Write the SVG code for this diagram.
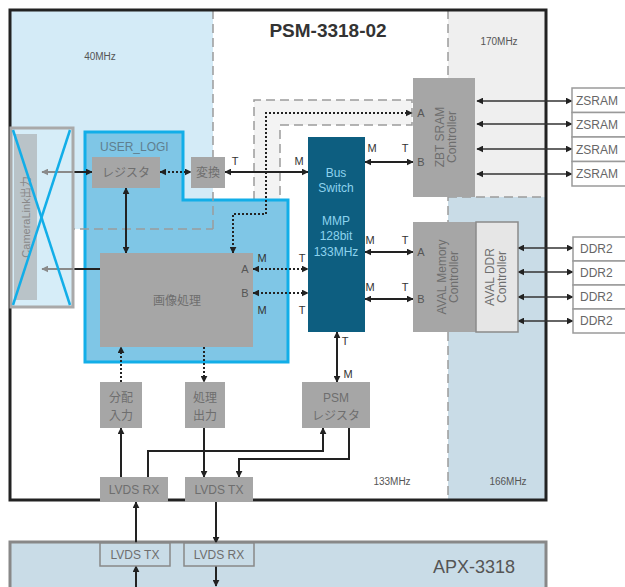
<svg xmlns="http://www.w3.org/2000/svg" width="625" height="587" viewBox="0 0 625 587">
<defs>
<style>
text{font-family:"Liberation Sans","Noto Sans CJK JP",sans-serif;}
.box{fill:#a6a6a6;}
.bt{font-size:12px;fill:#6e6e6e;text-anchor:middle;}
.lbl{font-size:11px;fill:#333;text-anchor:middle;}
.ab{font-size:11px;fill:#555;text-anchor:middle;}
.mhz{font-size:10px;fill:#555;text-anchor:middle;}
.dash{fill:none;stroke:#9c9c9c;stroke-width:1.5;stroke-dasharray:9 5;}
.c{fill:none;stroke:#222;stroke-width:2;}
.ct{fill:none;stroke:#333;stroke-width:1.5;}
.cd{fill:none;stroke:#222;stroke-width:2;stroke-dasharray:2 2;}
.cg{fill:none;stroke:#8a8a8a;stroke-width:2;}
.ext{fill:#fff;stroke:#9a9a9a;stroke-width:1.5;}
.et{font-size:12px;fill:#666;}
.bs{font-size:12px;fill:#8dd3ee;text-anchor:middle;}
</style>
<marker id="ah" viewBox="0 0 10 10" refX="9" refY="5" markerWidth="7" markerHeight="7" markerUnits="userSpaceOnUse" orient="auto-start-reverse"><path d="M0,0 L10,5 L0,10 z" fill="#222"/></marker>
<marker id="ag" viewBox="0 0 10 10" refX="9" refY="5" markerWidth="7" markerHeight="7" markerUnits="userSpaceOnUse" orient="auto-start-reverse"><path d="M0,0 L10,5 L0,10 z" fill="#8a8a8a"/></marker>
</defs>
<rect width="625" height="587" fill="#fff"/>

<g id="regions">
<rect x="10" y="10" width="203" height="219" fill="#d4ebf7"/>
<rect x="448" y="10" width="98" height="187" fill="#efefef"/>
<rect x="448" y="197" width="98" height="303" fill="#c9dce7"/>
<path d="M254,200 L254,100 L412,100 L412,125 L280,125 L280,200" fill="#f3f3f3" stroke="#9c9c9c" stroke-width="1.5" stroke-dasharray="9 5"/>
</g>

<g id="user_logi">
<polygon points="85,132 183,132 183,200 288,200 288,362 85,362" fill="#7fc6e6" stroke="#12aee8" stroke-width="3"/>
<text x="100" y="151" font-size="12" fill="#5f7f8f">USER_LOGI</text>
</g>

<g id="region-lines">
<line x1="213" y1="10" x2="213" y2="229" class="dash"/>
<line x1="10" y1="229" x2="213" y2="229" class="dash"/>
<line x1="448" y1="10" x2="448" y2="500" class="dash"/>
<line x1="448" y1="197" x2="546" y2="197" class="dash"/>
</g>

<g id="psm">
<rect x="10" y="10" width="536" height="490" fill="none" stroke="#222" stroke-width="3"/>
<text x="328" y="37" font-size="19" font-weight="bold" fill="#333" text-anchor="middle">PSM-3318-02</text>
<text x="100" y="60" class="mhz">40MHz</text>
<text x="499" y="45" class="mhz">170MHz</text>
<text x="392" y="485" class="mhz">133MHz</text>
<text x="508" y="485" class="mhz">166MHz</text>
</g>

<g id="apx">
<rect x="10" y="542" width="536" height="60" fill="#c9dce7" stroke="#888" stroke-width="3"/>
<text x="474" y="573" font-size="18" fill="#555" text-anchor="middle">APX-3318</text>
</g>

<g id="connectors">
<path d="M73,172 L92,172" class="c" marker-end="url(#ah)"/>
<path d="M73,172 L40,172" class="cg" marker-end="url(#ag)"/>
<path d="M100,269 L73,269" class="c"/>
<path d="M73,269 L40,269" class="cg" marker-end="url(#ag)"/>
<path d="M160,172 L191,172" class="cd" marker-start="url(#ah)" marker-end="url(#ah)"/>
<path d="M225,172 L308,172" class="c" marker-start="url(#ah)" marker-end="url(#ah)"/>
<path d="M126,188 L126,253" class="c" marker-start="url(#ah)" marker-end="url(#ah)"/>
<path d="M233,253 L233,214 L266,214 L266,113 L412,113" class="cd" marker-start="url(#ah)" marker-end="url(#ah)"/>
<path d="M253,269 L308,269" class="cd" marker-start="url(#ah)" marker-end="url(#ah)"/>
<path d="M253,293 L308,293" class="cd" marker-start="url(#ah)" marker-end="url(#ah)"/>
<path d="M365,162 L413,162" class="c" marker-start="url(#ah)" marker-end="url(#ah)"/>
<path d="M365,252 L413,252" class="c" marker-start="url(#ah)" marker-end="url(#ah)"/>
<path d="M365,299 L413,299" class="c" marker-start="url(#ah)" marker-end="url(#ah)"/>
<path d="M337,332 L337,382" class="c" marker-start="url(#ah)" marker-end="url(#ah)"/>
<path d="M121,382 L121,347" class="cd" marker-end="url(#ah)"/>
<path d="M204,347 L204,382" class="cd" marker-end="url(#ah)"/>
<path d="M121,477 L121,428" class="c" marker-end="url(#ah)"/>
<path d="M148,477 L148,451 L323,451 L323,428" class="c" marker-end="url(#ah)"/>
<path d="M204,428 L204,477" class="c" marker-end="url(#ah)"/>
<path d="M349,428 L349,459 L239,459 L239,477" class="c" marker-end="url(#ah)"/>
<path d="M136,543 L136,502" class="c" marker-end="url(#ah)"/>
<path d="M136,587 L136,566" class="c" marker-end="url(#ah)"/>
<path d="M216,502 L216,543" class="c" marker-end="url(#ah)"/>
<path d="M216,566 L216,586" class="c" marker-end="url(#ah)"/>
<path d="M477,101 L572,101" class="ct" marker-start="url(#ah)" marker-end="url(#ah)"/>
<path d="M477,124 L572,124" class="ct" marker-start="url(#ah)" marker-end="url(#ah)"/>
<path d="M477,149 L572,149" class="ct" marker-start="url(#ah)" marker-end="url(#ah)"/>
<path d="M477,174 L572,174" class="ct" marker-start="url(#ah)" marker-end="url(#ah)"/>
<path d="M518,248 L573,248" class="ct" marker-start="url(#ah)" marker-end="url(#ah)"/>
<path d="M518,272 L573,272" class="ct" marker-start="url(#ah)" marker-end="url(#ah)"/>
<path d="M518,297 L573,297" class="ct" marker-start="url(#ah)" marker-end="url(#ah)"/>
<path d="M518,321 L573,321" class="ct" marker-start="url(#ah)" marker-end="url(#ah)"/>
<text x="235" y="165" class="lbl">T</text>
<text x="299" y="165" class="lbl">M</text>
<text x="372" y="152" class="lbl">M</text>
<text x="405" y="152" class="lbl">T</text>
<text x="370" y="244" class="lbl">M</text>
<text x="405" y="244" class="lbl">T</text>
<text x="370" y="291" class="lbl">M</text>
<text x="405" y="291" class="lbl">T</text>
<text x="262" y="262" class="lbl">M</text>
<text x="302" y="262" class="lbl">T</text>
<text x="262" y="314" class="lbl">M</text>
<text x="302" y="314" class="lbl">T</text>
<text x="345" y="345" class="lbl">T</text>
<text x="348" y="378" class="lbl">M</text>
</g>

<g id="register">
<rect x="92" y="157" width="68" height="31" class="box"/>
<text x="126" y="177" class="bt">レジスタ</text>
</g>
<g id="convert">
<rect x="191" y="157" width="34" height="31" class="box"/>
<text x="208" y="177" class="bt">変換</text>
</g>
<g id="image-proc">
<rect x="100" y="253" width="153" height="94" class="box"/>
<text x="177" y="305" class="bt" font-size="13">画像処理</text>
<text x="245" y="273" class="ab">A</text>
<text x="245" y="297" class="ab">B</text>
</g>
<g id="bus-switch">
<rect x="308" y="137" width="57" height="195" fill="#0d5e80"/>
<text x="336" y="177" class="bs">Bus</text>
<text x="336" y="192" class="bs">Switch</text>
<text x="336" y="225" class="bs">MMP</text>
<text x="336" y="240" class="bs">128bit</text>
<text x="336" y="256" class="bs">133MHz</text>
</g>
<g id="zbt">
<rect x="413" y="78" width="62" height="119" class="box"/>
<text x="421" y="117" class="ab">A</text>
<text x="421" y="166" class="ab">B</text>
<g transform="translate(444,137) rotate(-90)">
<text x="0" y="0" class="bt" font-size="11">ZBT SRAM</text>
<text x="0" y="12" class="bt" font-size="11">Controller</text>
</g>
</g>
<g id="aval-mem">
<rect x="413" y="222" width="64" height="110" class="box"/>
<text x="421" y="256" class="ab">A</text>
<text x="421" y="303" class="ab">B</text>
<g transform="translate(446,277) rotate(-90)">
<text x="0" y="0" class="bt" font-size="11">AVAL Memory</text>
<text x="0" y="12" class="bt" font-size="11">Controller</text>
</g>
</g>
<g id="aval-ddr">
<rect x="476" y="222" width="42" height="110" fill="#e6e6e6" stroke="#8a8a8a" stroke-width="1.5"/>
<g transform="translate(494,277) rotate(-90)">
<text x="0" y="0" class="bt" font-size="11" fill="#7a7a7a">AVAL DDR</text>
<text x="0" y="12" class="bt" font-size="11" fill="#7a7a7a">Controller</text>
</g>
</g>
<g id="zsram">
<rect x="572" y="88" width="70" height="24.5" class="ext"/>
<rect x="572" y="112.5" width="70" height="24.5" class="ext"/>
<rect x="572" y="137" width="70" height="24.5" class="ext"/>
<rect x="572" y="161.5" width="70" height="24.5" class="ext"/>
<text x="576" y="105" class="et">ZSRAM</text>
<text x="576" y="129" class="et">ZSRAM</text>
<text x="576" y="154" class="et">ZSRAM</text>
<text x="576" y="178" class="et">ZSRAM</text>
</g>
<g id="ddr2">
<rect x="573" y="237" width="70" height="24" class="ext"/>
<rect x="573" y="261" width="70" height="24" class="ext"/>
<rect x="573" y="285" width="70" height="24" class="ext"/>
<rect x="573" y="309" width="70" height="24" class="ext"/>
<text x="580" y="253" class="et">DDR2</text>
<text x="580" y="277" class="et">DDR2</text>
<text x="580" y="301" class="et">DDR2</text>
<text x="580" y="325" class="et">DDR2</text>
</g>
<g id="bunpai">
<rect x="100" y="382" width="42" height="46" class="box"/>
<text x="121" y="402" class="bt">分配</text>
<text x="121" y="420" class="bt">入力</text>
</g>
<g id="shori">
<rect x="185" y="382" width="40" height="46" class="box"/>
<text x="205" y="402" class="bt">処理</text>
<text x="205" y="420" class="bt">出力</text>
</g>
<g id="psm-reg">
<rect x="302" y="382" width="68" height="46" class="box"/>
<text x="336" y="402" class="bt">PSM</text>
<text x="336" y="420" class="bt">レジスタ</text>
</g>
<g id="lvds-rx-top">
<rect x="100" y="477" width="68" height="25" class="box"/>
<text x="134" y="494" class="bt">LVDS RX</text>
</g>
<g id="lvds-tx-top">
<rect x="185" y="477" width="68" height="25" class="box"/>
<text x="219" y="494" class="bt">LVDS TX</text>
</g>
<g id="lvds-tx-bot">
<rect x="100" y="543" width="70" height="23" fill="#c9dce7" stroke="#888" stroke-width="1.5"/>
<text x="135" y="559" class="bt" fill="#666">LVDS TX</text>
</g>
<g id="lvds-rx-bot">
<rect x="184" y="543" width="70" height="23" fill="#c9dce7" stroke="#888" stroke-width="1.5"/>
<text x="219" y="559" class="bt" fill="#666">LVDS RX</text>
</g>
<g id="cameralink">
<rect x="11" y="128" width="62" height="179" fill="#d6edf8" stroke="#a9a9a9" stroke-width="3"/>
<rect x="14" y="134" width="23" height="166" fill="#b9c3c8"/>
<path d="M73,172 L42,172" class="cg" marker-end="url(#ag)"/>
<path d="M73,269 L42,269" class="cg" marker-end="url(#ag)"/>
<text transform="translate(30,217) rotate(-90)" x="0" y="0" font-size="11" fill="#888" text-anchor="middle">CameraLink出力</text>
<line x1="13" y1="130" x2="70" y2="305" stroke="#12aee8" stroke-width="2.5"/>
<line x1="70" y1="130" x2="13" y2="305" stroke="#12aee8" stroke-width="2.5"/>
</g>
</svg>
